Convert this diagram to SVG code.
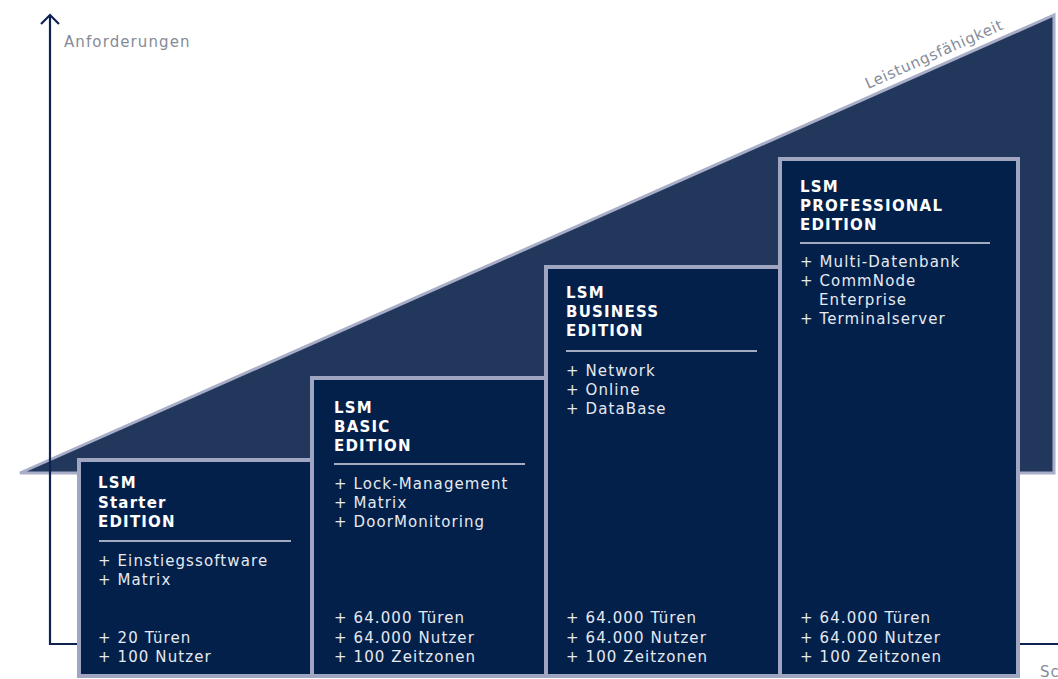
<svg xmlns="http://www.w3.org/2000/svg" width="1058" height="679" viewBox="0 0 1058 679">
<style>
.axis{stroke:#0e2250;stroke-width:2.2;fill:none}
.lbl{font-family:"DejaVu Sans","Open Sans",sans-serif;font-size:15px;fill:#858c97;letter-spacing:1.1px}
.box{fill:#03204a;stroke:#a0a6c2;stroke-width:4}
.t{font-family:"DejaVu Sans","Open Sans",sans-serif;font-size:15px;font-weight:700;fill:#ffffff;letter-spacing:1.2px}
.i{font-family:"DejaVu Sans","Open Sans",sans-serif;font-size:15px;fill:#e6e9f0;letter-spacing:1.1px}
.sep{stroke:#d8dbe6;stroke-width:1.5}
</style>
<rect width="1058" height="679" fill="#ffffff"/>
<g id="triangle">
<polygon points="20,473 1054,15 1054,473" fill="#22375c" stroke="#a9aec8" stroke-width="3" stroke-linejoin="miter"/>
<text class="lbl" style="letter-spacing:0.7px" transform="translate(868,89) rotate(-23.9)">Leistungsfähigkeit</text>
</g>
<g id="connectors">
<path class="axis" d="M50,645 V15"/>
<path class="axis" d="M41,24 L50,15 L59,24"/>
<path class="axis" d="M49,644 H1058"/>
</g>
<text class="lbl" x="64" y="47">Anforderungen</text>
<text class="lbl" x="1040" y="677">Sc</text>
<g id="starter">
<rect class="box" x="79" y="460" width="233" height="216"/>
<text class="t" x="98" y="488">LSM</text>
<text class="t" x="98" y="508">Starter</text>
<text class="t" x="98" y="527">EDITION</text>
<line class="sep" x1="99" y1="541" x2="291" y2="541"/>
<text class="i" x="98" y="566">+ Einstiegssoftware</text>
<text class="i" x="98" y="585">+ Matrix</text>
<text class="i" x="98" y="643">+ 20 Türen</text>
<text class="i" x="98" y="662">+ 100 Nutzer</text>
</g>
<g id="basic">
<rect class="box" x="312" y="378" width="234" height="298"/>
<text class="t" x="334" y="413">LSM</text>
<text class="t" x="334" y="432">BASIC</text>
<text class="t" x="334" y="451">EDITION</text>
<line class="sep" x1="334" y1="464" x2="525" y2="464"/>
<text class="i" x="334" y="489">+ Lock-Management</text>
<text class="i" x="334" y="508">+ Matrix</text>
<text class="i" x="334" y="527">+ DoorMonitoring</text>
<text class="i" x="334" y="623">+ 64.000 Türen</text>
<text class="i" x="334" y="643">+ 64.000 Nutzer</text>
<text class="i" x="334" y="662">+ 100 Zeitzonen</text>
</g>
<g id="business">
<rect class="box" x="546" y="267" width="234" height="409"/>
<text class="t" x="566" y="298">LSM</text>
<text class="t" x="566" y="317">BUSINESS</text>
<text class="t" x="566" y="336">EDITION</text>
<line class="sep" x1="566" y1="351" x2="757" y2="351"/>
<text class="i" x="566" y="376">+ Network</text>
<text class="i" x="566" y="395">+ Online</text>
<text class="i" x="566" y="414">+ DataBase</text>
<text class="i" x="566" y="623">+ 64.000 Türen</text>
<text class="i" x="566" y="643">+ 64.000 Nutzer</text>
<text class="i" x="566" y="662">+ 100 Zeitzonen</text>
</g>
<g id="professional">
<rect class="box" x="780" y="159" width="238" height="517"/>
<text class="t" x="800" y="192">LSM</text>
<text class="t" x="800" y="211">PROFESSIONAL</text>
<text class="t" x="800" y="230">EDITION</text>
<line class="sep" x1="800" y1="243" x2="990" y2="243"/>
<text class="i" x="800" y="267">+ Multi-Datenbank</text>
<text class="i" x="800" y="286">+ CommNode</text>
<text class="i" x="819" y="305">Enterprise</text>
<text class="i" x="800" y="324">+ Terminalserver</text>
<text class="i" x="800" y="623">+ 64.000 Türen</text>
<text class="i" x="800" y="643">+ 64.000 Nutzer</text>
<text class="i" x="800" y="662">+ 100 Zeitzonen</text>
</g>
</svg>
